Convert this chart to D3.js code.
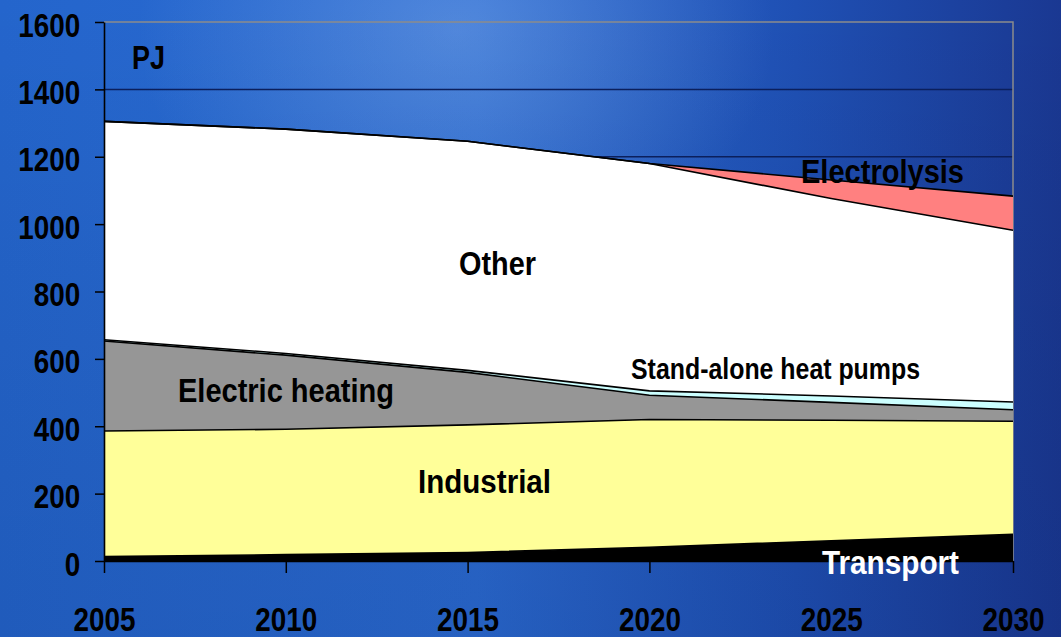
<!DOCTYPE html>
<html>
<head>
<meta charset="utf-8">
<script src="https://cdn.jsdelivr.net/npm/d3@7"></script>
<style>
  html, body { margin: 0; padding: 0; background: #1f55b8; }
  svg { display: block; }
  text { font-family: "Liberation Sans", Arial, sans-serif; font-weight: bold; }
</style>
</head>
<body>
<svg id="chart" width="1061" height="637"></svg>
<script>
// ---- data ----
const years = [2005, 2010, 2015, 2020, 2025, 2030];
const seriesNames = ["Transport", "Industrial", "Electric heating", "Stand-alone heat pumps", "Other", "Electrolysis"];
const transport     = [13, 19, 25, 41, 60, 79];
const industrial    = [373, 372, 379, 379, 358, 336];
const electricHeat  = [267, 220, 156, 72, 53, 34];
const heatPumps     = [4, 5, 6, 13, 19, 23];
const other         = [648, 666, 680, 675, 586, 510];
const electrolysis  = [0, 0, 0, 0, 55, 101];
const yTicks = [0, 200, 400, 600, 800, 1000, 1200, 1400, 1600];
const xTicks = [2005, 2010, 2015, 2020, 2025, 2030];
const unitLabel = "PJ";

const colors = {
  "Transport": "#000000",
  "Industrial": "#FFFF99",
  "Electric heating": "#969696",
  "Stand-alone heat pumps": "#CCFFFF",
  "Other": "#FFFFFF",
  "Electrolysis": "#FF8080"
};

const table = years.map((yr, i) => ({
  year: yr,
  "Transport": transport[i],
  "Industrial": industrial[i],
  "Electric heating": electricHeat[i],
  "Stand-alone heat pumps": heatPumps[i],
  "Other": other[i],
  "Electrolysis": electrolysis[i]
}));

const W = 1061, H = 637;
const margin = {left: 104, top: 22, right: 48, bottom: 76};
const svg = d3.select("#chart");

// ---- background ----
const defs = svg.append("defs");
const bg = defs.append("linearGradient").attr("id", "bgH").attr("x1", 0).attr("x2", 1).attr("y1", 0).attr("y2", 0);
bg.append("stop").attr("offset", "0").attr("stop-color", "#2465cc");
bg.append("stop").attr("offset", "0.45").attr("stop-color", "#2b6bd2");
bg.append("stop").attr("offset", "0.75").attr("stop-color", "#1f50b4");
bg.append("stop").attr("offset", "1").attr("stop-color", "#1a3892");
const bgV = defs.append("linearGradient").attr("id", "bgV").attr("x1", 0).attr("x2", 0).attr("y1", 0).attr("y2", 1);
bgV.append("stop").attr("offset", "0").attr("stop-color", "#000").attr("stop-opacity", 0);
bgV.append("stop").attr("offset", "1").attr("stop-color", "#001040").attr("stop-opacity", 0.12);
const glow = defs.append("radialGradient").attr("id", "glow").attr("cx", 0.43).attr("cy", 0.05).attr("r", 0.3)
  .attr("gradientTransform", "translate(0.43,0.05) scale(1,1.3) translate(-0.43,-0.05)");
glow.append("stop").attr("offset", "0").attr("stop-color", "#8fb6ec").attr("stop-opacity", 0.38);
glow.append("stop").attr("offset", "1").attr("stop-color", "#8fb6ec").attr("stop-opacity", 0);

svg.append("rect").attr("width", W).attr("height", H).attr("fill", "url(#bgH)");
svg.append("rect").attr("width", W).attr("height", H).attr("fill", "url(#glow)");
svg.append("rect").attr("width", W).attr("height", H).attr("fill", "url(#bgV)");

// ---- scales ----
const x = d3.scaleLinear().domain([2005, 2030]).range([margin.left, W - margin.right]);
const y = d3.scaleLinear().domain([0, 1600]).range([H - margin.bottom, margin.top]);

// gridlines (behind areas)
svg.append("g").selectAll("line").data(yTicks.filter(v => v > 0 && v < 1600)).join("line")
  .attr("x1", x(2005)).attr("x2", x(2030))
  .attr("y1", d => y(d)).attr("y2", d => y(d))
  .attr("stroke", "#0b1f5c").attr("stroke-width", 1.5);

// plot border top & right
svg.append("path")
  .attr("d", `M${x(2005)},${y(1600)}H${x(2030)}V${y(0)}`)
  .attr("fill", "none").attr("stroke", "#8c8c8c").attr("stroke-width", 1.5);

// ---- stack ----
const stack = d3.stack().keys(seriesNames);
const layers = stack(table);

const area = d3.area()
  .x(d => x(d.data.year))
  .y0(d => y(d[0]))
  .y1(d => y(d[1]));
const topLine = d3.line()
  .x(d => x(d.data.year))
  .y(d => y(d[1]));

svg.append("g").selectAll("path").data(layers).join("path")
  .attr("d", area)
  .attr("fill", d => colors[d.key]);

svg.append("g").selectAll("path").data(layers).join("path")
  .attr("d", topLine)
  .attr("fill", "none")
  .attr("stroke", "#000")
  .attr("stroke-width", 1.6);

// ---- axes ----
const sx = 0.845;
const yAxis = d3.axisLeft(y).tickValues(yTicks).tickFormat(d3.format("d")).tickSize(9).tickSizeOuter(0).tickPadding(19);
const gy = svg.append("g").attr("transform", `translate(${margin.left},0)`).call(yAxis);
gy.select(".domain").attr("stroke", "#000").attr("stroke-width", 1.6);
gy.selectAll(".tick line").attr("stroke", "#000").attr("stroke-width", 1.5);
gy.selectAll(".tick text")
  .attr("fill", "#000").attr("font-size", 33)
  .attr("dy", 14)
  .attr("transform", `scale(${sx},1)`);

const xAxis = d3.axisBottom(x).tickValues(xTicks).tickFormat(d3.format("d")).tickSize(12).tickSizeOuter(0).tickPadding(35);
const gx = svg.append("g").attr("transform", `translate(0,${y(0)})`).call(xAxis);
gx.select(".domain").attr("stroke", "#000").attr("stroke-width", 1.6);
gx.selectAll(".tick line").attr("stroke", "#000").attr("stroke-width", 1.5);
gx.selectAll(".tick text")
  .attr("fill", "#000").attr("font-size", 33)
  .attr("transform", `scale(${sx},1)`);
gy.selectAll("text").attr("font-family", null);
gx.selectAll("text").attr("font-family", null);

// ---- labels ----
const labels = [
  {text: unitLabel, x: 132, y: 69, size: 33, w: 33, fill: "#000"},
  {text: "Other", x: 459, y: 275, size: 34, w: 77, fill: "#000"},
  {text: "Electrolysis", x: 801, y: 183, size: 34, w: 163, fill: "#000"},
  {text: "Stand-alone heat pumps", x: 631, y: 379, size: 29, w: 289, fill: "#000"},
  {text: "Electric heating", x: 178, y: 402, size: 34, w: 216, fill: "#000"},
  {text: "Industrial", x: 418, y: 493, size: 34, w: 133, fill: "#000"},
  {text: "Transport", x: 822, y: 574, size: 34, w: 137, fill: "#fff"}
];
svg.append("g").selectAll("text").data(labels).join("text")
  .attr("x", d => d.x).attr("y", d => d.y)
  .attr("font-size", d => d.size)
  .attr("fill", d => d.fill)
  .attr("textLength", d => d.w)
  .attr("lengthAdjust", "spacingAndGlyphs")
  .text(d => d.text);
</script>
</body>
</html>
